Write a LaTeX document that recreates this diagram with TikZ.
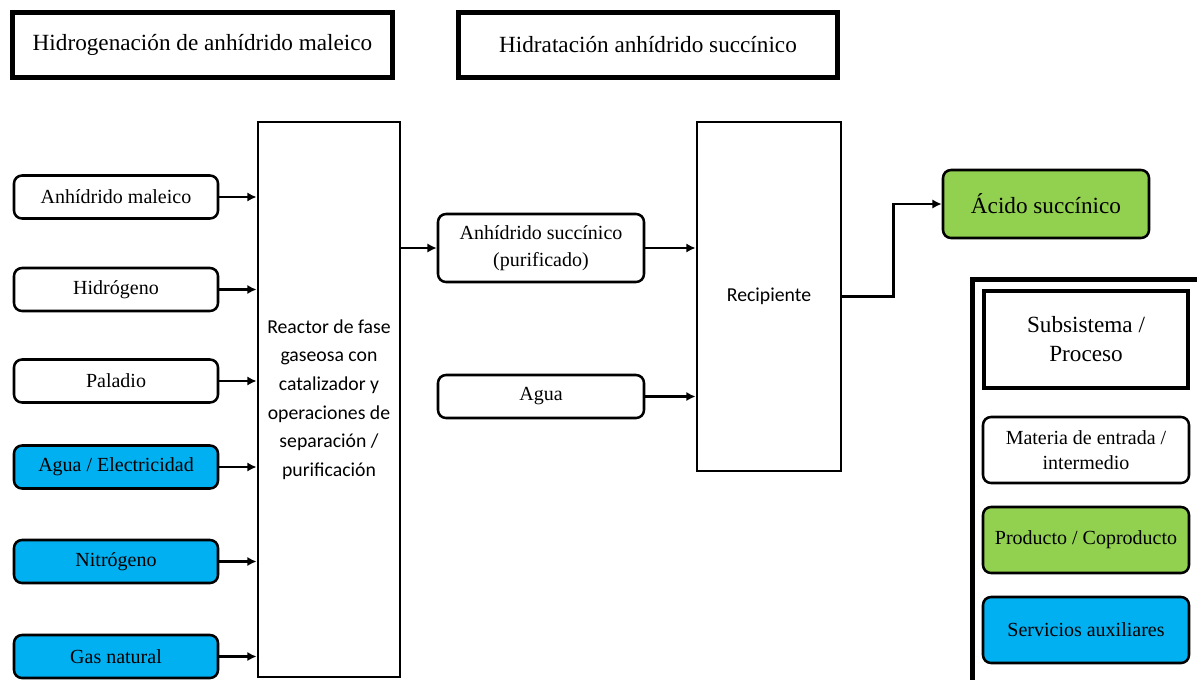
\documentclass[tikz,border=0pt]{standalone}
\usepackage{fontspec}
\setmainfont{Liberation Serif}
\newfontfamily\calibri{Carlito}
\usepackage{xcolor}
\usetikzlibrary{arrows.meta}

\definecolor{verdeprod}{RGB}{146,208,80}
\definecolor{azulserv}{RGB}{0,176,240}

\tikzset{
  titulo/.style={draw, line width=3.75pt, minimum width=285pt, minimum height=48.75pt, font=\fontsize{17.4}{21}\selectfont},
  entrada/.style={draw, line width=1.9pt, rounded corners=6pt, minimum width=153pt, minimum height=32.25pt, font=\fontsize{15}{19}\selectfont, align=center},
  equipo/.style={draw, line width=2.1pt, font=\calibri\fontsize{14.8}{21.4}\selectfont, align=center},
  flujo/.style={line width=2pt, -{Latex[length=7pt,width=7pt]}}
}

\begin{document}
\begin{tikzpicture}[x=0.75pt,y=0.75pt,yscale=-1,xscale=1]
\useasboundingbox (0,0) rectangle (1197,679);
\clip (0,0) rectangle (1197,679);

% Text Node
\node [titulo] (tit1) at (202.5,45) {Hidrogenación de anhídrido maleico};
% Text Node
\node [titulo, minimum width=284.25pt] (tit2) at (648,45) {Hidratación anhídrido succínico};

% Text Node
\node [entrada] (anhmal) at (116,197) {Anhídrido maleico};
% Text Node
\node [entrada] (hidro) at (116,289.5) {Hidrógeno};
% Text Node
\node [entrada] (pala) at (116,381) {Paladio};
% Text Node
\node [entrada, fill=azulserv] (aguaelec) at (116,467) {Agua / Electricidad};
% Text Node
\node [entrada, fill=azulserv] (nitro) at (116,561.5) {Nitrógeno};
% Text Node
\node [entrada, fill=azulserv] (gas) at (116,656.5) {Gas natural};

% Text Node
\node [equipo, minimum width=106.5pt, minimum height=416.25pt] (reactor) at (329,399.5) {Reactor de fase\\gaseosa con\\catalizador y\\operaciones de\\separación /\\purificación};

% Text Node
\node [entrada, minimum width=154.5pt, minimum height=51pt, font=\fontsize{15}{20}\selectfont] (anhsuc) at (541,248) {Anhídrido succínico\\(purificado)};
% Text Node
\node [entrada, minimum width=154.5pt] (agua) at (541,396.5) {Agua};

% Text Node
\node [equipo, minimum width=108pt, minimum height=261.75pt] (recip) at (769,296.5) {Recipiente};

% Text Node
\node [entrada, fill=verdeprod, minimum width=154.5pt, minimum height=51pt, font=\fontsize{17.4}{21}\selectfont] (acido) at (1046,204) {Ácido succínico};

%Straight Lines
\foreach \n in {anhmal,hidro,pala,aguaelec,nitro,gas}
  \draw [flujo] (\n.east) -- (\n.east -| reactor.west);
\draw [flujo] (reactor.east |- anhsuc.west) -- (anhsuc.west);
\draw [flujo] (anhsuc.east) -- (anhsuc.east -| recip.west);
\draw [flujo] (agua.east) -- (agua.east -| recip.west);
\draw [flujo] (recip.east) -- ++(51,0) |- (acido.west);

% Legend
\draw [line width=3.75pt] (1205,279.5) -- (972.5,279.5) -- (972.5,690);
% Text Node
\node [titulo, line width=3pt, minimum width=153pt, minimum height=72.75pt, align=center, font=\fontsize{17.4}{21.75}\selectfont] (subsis) at (1086,339.5) {Subsistema /\\Proceso};
% Text Node
\node [entrada, minimum width=154.5pt, minimum height=49.5pt] (leyent) at (1086,450) {Materia de entrada /\\intermedio};
% Text Node
\node [entrada, fill=verdeprod, minimum width=154.5pt, minimum height=49.5pt] (leyprod) at (1086,540) {Producto / Coproducto};
% Text Node
\node [entrada, fill=azulserv, minimum width=154.5pt, minimum height=49.5pt] (leyserv) at (1086,630) {Servicios auxiliares};

\end{tikzpicture}
\end{document}
